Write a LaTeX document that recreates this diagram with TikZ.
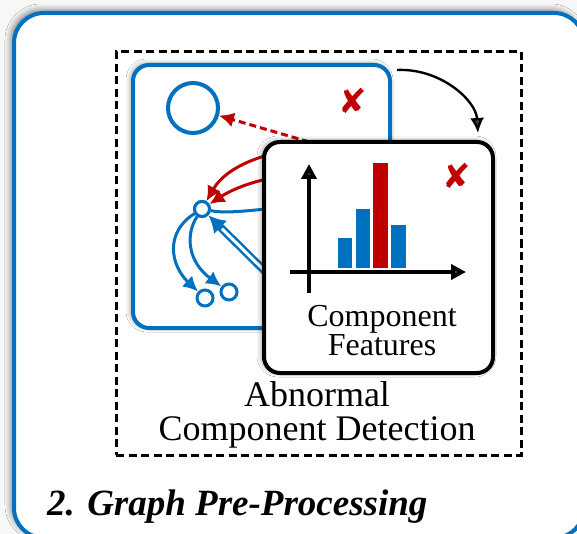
\documentclass[tikz,border=0pt]{standalone}
\usepackage{fontspec}
\setmainfont{Liberation Serif}
\newfontfamily\symfont{DejaVu Sans}
\usetikzlibrary{arrows.meta,shadows.blur}
\definecolor{cblue}{HTML}{0070C0}
\definecolor{cred}{HTML}{C00000}
\begin{document}
\begin{tikzpicture}[x=1pt,y=-1pt,
  softshadow/.style={blur shadow={shadow xshift=-2pt, shadow yshift=1pt, shadow blur radius=5pt, shadow opacity=45}},
  graphbox/.style={draw=cblue, line width=4pt, rounded corners=16pt, fill=white,
    minimum width=257pt, minimum height=263pt, inner sep=0pt, softshadow},
  featbox/.style={draw=black, line width=4pt, rounded corners=16pt, fill=white,
    minimum width=229pt, minimum height=231pt, inner sep=0pt, softshadow},
  dashbox/.style={draw=black, line width=3pt, dash pattern=on 8pt off 4.5pt,
    minimum width=405pt, minimum height=403pt, inner sep=0pt},
  vertex/.style={circle, draw=cblue, fill=white, inner sep=0pt},
  crossmark/.style={text=cred, font=\symfont\fontsize{34}{34}\selectfont, inner sep=0pt},
  redarrow/.style={draw=cred, line width=3pt, -{Latex[length=15pt,width=15pt]}},
  bluearrow/.style={draw=cblue, line width=3pt, -{Latex[length=15pt,width=15pt]}},
  label/.style={inner sep=0pt, anchor=base},
]
\useasboundingbox (0,0) rectangle (577,534);
\fill[gray!6] (0,0) rectangle (577,534);

% outer panel
\path[draw=cblue, line width=4pt, fill=white, rounded corners=30pt,
  blur shadow={shadow xshift=-3pt, shadow yshift=3pt, shadow blur radius=6pt, shadow opacity=50}]
  (14,13) rectangle (584,538);

% dashed frame of the detection step
\node[dashbox] (dbox) at (318.5,253.5) {};

% graph panel
\node[graphbox] (gbox) at (261.5,196.5) {};
\node[vertex, line width=4pt, minimum size=50pt] (big) at (193,108) {};
\node[crossmark] (xg) at (353,101) {✘};

% hidden ends of the edges (covered by the feature panel)
\coordinate (s0) at (330,148);
\coordinate (s1) at (290,150);
\coordinate (s2) at (290,175);
\coordinate (s3) at (290,207);
\coordinate (s4) at (290,296);

\coordinate (hubpos) at (202,209);
\node[vertex, line width=3pt, minimum size=15pt] (hub) at (hubpos) {};
\node[vertex, line width=3pt, minimum size=16pt] (c1) at (205,298) {};
\node[vertex, line width=3pt, minimum size=16pt] (c2) at (229,292) {};

\draw[draw=cred, line width=3pt, dash pattern=on 7pt off 4pt, -{Latex[length=15pt,width=15pt]}]
  (s0) -- (big);
\draw[redarrow] (s1) .. controls (245,158) and (222,174) .. (hub);
\draw[redarrow] (s2) .. controls (250,180) and (228,192) .. (hub);
\draw[draw=cblue, line width=3pt] (hub) .. controls (228,214) and (250,210) .. (s3);
\draw[draw=cblue, line width=8pt, -{Latex[length=17pt,width=19pt]}] (s4) -- (hub);
\draw[draw=white, line width=3pt, shorten >=19pt] (s4) -- (hub);
\draw[bluearrow] (hub) .. controls (165,232) and (170,265) .. (c1);
\draw[bluearrow] (hub) .. controls (185,235) and (188,262) .. (c2);
\node[vertex, line width=3pt, minimum size=15pt] at (hubpos) {};

% step arrow to the feature panel
\coordinate (a0) at (397,70);
\coordinate (a1) at (478,133);
\draw[line width=2.4pt, -{Latex[length=15pt,width=14pt]}] (a0) .. controls (440,68) and (476,100) .. (a1);

% feature panel
\node[featbox] (fbox) at (378.5,257.5) {};
\node[crossmark] (xf) at (457,176) {✘};
\fill[cblue] (338,268) rectangle (352,238);
\fill[cblue] (356,268) rectangle (370,209);
\fill[cred]  (373,268) rectangle (388,163);
\fill[cblue] (391,268) rectangle (406,225);
\draw[line width=4pt, -{Triangle[length=15pt,width=15pt]}] (309,293) -- (309,164);
\draw[line width=4pt, -{Triangle[length=15pt,width=15pt]}] (290,272) -- (466,272);
\node[label, font=\fontsize{32}{32}\selectfont] (f1) at (382,326) {Component};
\node[label, font=\fontsize{32}{32}\selectfont] (f2) at (382,355) {Features};

% caption of the detection step
\node[label, font=\fontsize{36}{36}\selectfont] (d1) at (317,406) {Abnormal};
\node[label, font=\fontsize{36}{36}\selectfont] (d2) at (317,440) {Component Detection};

% panel title
\node[inner sep=0pt, anchor=base west, font=\fontsize{37}{37}\selectfont\bfseries\itshape] (title) at (47,515) {2. Graph Pre-Processing};
\end{tikzpicture}
\end{document}
